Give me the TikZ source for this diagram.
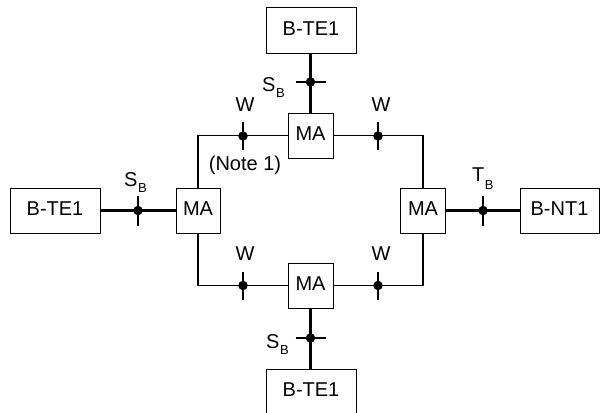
\documentclass[tikz,border=0pt]{standalone}
\usepackage{fontspec}
\setmainfont{Liberation Sans}
\newcommand{\subB}[1][6pt]{\hspace{0.5pt}\raisebox{-#1}{\fontsize{13}{13}\selectfont B}}
\begin{document}
\begin{tikzpicture}[x=1pt,y=-1pt,
  box/.style={draw,line width=1pt,inner sep=0pt,minimum height=45pt,
    font=\fontsize{20}{20}\selectfont,text height=14.3pt,text depth=5pt},
  tebox/.style={box,minimum width=90pt},
  mabox/.style={box,minimum width=45pt},
  dotnode/.style={circle,fill=black,inner sep=0pt,minimum size=9.5pt},
  lbl/.style={inner sep=0pt,font=\fontsize{20}{20}\selectfont},
  heavy/.style={line width=2.2pt},
  light/.style={line width=1.2pt}]
\useasboundingbox (0,0) rectangle (601,412);
% boxes
\node[tebox] (tt) at (311,30.5) {B-TE1};
\node[tebox] (tl) at (55,210.5) {B-TE1};
\node[box,minimum width=79pt] (nt) at (559.5,210.5) {B-NT1};
\node[tebox] (tb) at (311,392) {B-TE1};
\node[mabox] (mt) at (310.5,135.5) {MA};
\node[mabox,minimum width=44pt] (ml) at (198,210.5) {MA};
\node[mabox] (mr) at (423,210.5) {MA};
\node[mabox] (mb) at (310.5,285.5) {MA};
% ring
\draw[light] (mt.west) -| (ml.north);
\draw[light] (mt.east) -| (mr.north);
\draw[light] (mb.west) -| (ml.south);
\draw[light] (mb.east) -| (mr.south);
% thick connectors
\draw[heavy] (tt.south -| mt.north) -- (mt.north);
\draw[heavy] (tb.north -| mb.south) -- (mb.south);
\draw[heavy] (tl.east) -- (ml.west);
\draw[heavy] (mr.east) -- (nt.west);
% reference points
\node[dotnode] (st) at (310.5,82) {};
\node[dotnode] (sb) at (310.5,338) {};
\node[dotnode] (sl) at (138,210.5) {};
\node[dotnode] (tr) at (483,210.5) {};
\node[dotnode] (w1) at (243,136) {};
\node[dotnode] (w2) at (378,136) {};
\node[dotnode] (w3) at (243,285.5) {};
\node[dotnode] (w4) at (378,285.5) {};
% ticks
\draw[heavy] ([xshift=-15pt]st.center) -- ([xshift=15pt]st.center);
\draw[heavy] ([xshift=-15pt]sb.center) -- ([xshift=15pt]sb.center);
\draw[heavy] ([yshift=-15pt]sl.center) -- ([yshift=15pt]sl.center);
\draw[heavy] ([yshift=-15pt]tr.center) -- ([yshift=15pt]tr.center);
\foreach \w in {w1,w2,w3,w4}
  \draw[heavy] ([yshift=-14pt]\w.center) -- ([yshift=14pt]\w.center);
% labels
\node[lbl,anchor=base west] (lst) at (262,91) {S\subB};
\node[lbl,anchor=base west] (lsb) at (266,348) {S\subB};
\node[lbl,anchor=base west] (lsl) at (124,186) {S\subB};
\node[lbl,anchor=base west] (ltr) at (472,181) {T\subB[8pt]};
\node[lbl,anchor=base] (lw1) at (245,111) {W};
\node[lbl,anchor=base] (lw2) at (381,111) {W};
\node[lbl,anchor=base] (lw3) at (245,260) {W};
\node[lbl,anchor=base] (lw4) at (381,260) {W};
\node[lbl,anchor=base] (note) at (245,170) {(Note 1)};
\end{tikzpicture}
\end{document}
